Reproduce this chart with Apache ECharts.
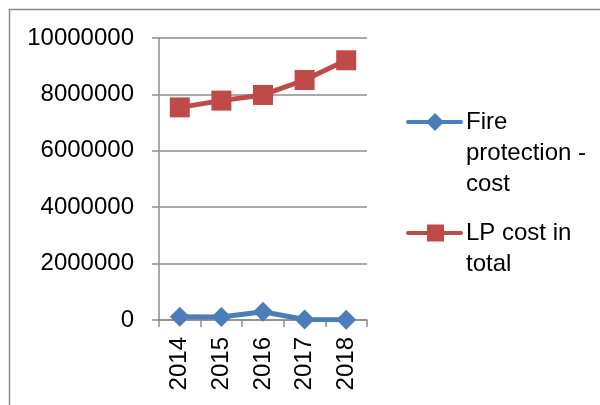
<!DOCTYPE html>
<html><head><meta charset="utf-8">
<script src="https://cdn.jsdelivr.net/npm/echarts@6/dist/echarts.min.js"></script>
<style>html,body{margin:0;padding:0;background:#fff}#c{width:600px;height:405px}</style>
</head><body><div id="c"></div>
<script>
var categories = ['2014', '2015', '2016', '2017', '2018'];
var fireProtection = [115000, 110000, 295000, 20000, 10000];
var lpTotal = [7540000, 7780000, 7980000, 8510000, 9210000];
var seriesNames = ['Fire protection - cost', 'LP cost in total'];
var legendLines = [['Fire', 'protection -', 'cost'], ['LP cost in', 'total']];
var yTicks = [0, 2000000, 4000000, 6000000, 8000000, 10000000];

var FONT = '"Liberation Sans", Arial, sans-serif';
var BLUE = '#4a7ebb', RED = '#be4b48', GRID = '#8c8c8c';
var chart = echarts.init(document.getElementById('c'));

function legendGraphic(y, color, symbol, lines) {
  var els = [
    {type: 'line', shape: {x1: 408, y1: y, x2: 461, y2: y}, style: {stroke: color, lineWidth: 4, lineCap: 'round'}}
  ];
  if (symbol === 'diamond') {
    els.push({type: 'polygon', shape: {points: [[435, y - 9], [444, y], [435, y + 9], [426, y]]}, style: {fill: color}});
  } else {
    els.push({type: 'rect', shape: {x: 427, y: y - 8.5, width: 17, height: 17}, style: {fill: color}});
  }
  lines.forEach(function (t, i) {
    els.push({type: 'text', x: 466, y: y + i * 31, style: {text: t, font: '24px ' + FONT, fill: '#000', verticalAlign: 'middle', align: 'left'}});
  });
  return els;
}

chart.setOption({
  animation: false,
  grid: {left: 159, right: 233, top: 38, bottom: 85},
  xAxis: {
    type: 'category', data: categories, boundaryGap: true,
    axisLine: {lineStyle: {color: GRID, width: 1.5}},
    axisTick: {show: true, length: 7, lineStyle: {color: GRID, width: 1.5}},
    axisLabel: {rotate: 90, margin: 17, fontSize: 24, color: '#000', fontFamily: FONT}
  },
  yAxis: {
    type: 'value', min: yTicks[0], max: yTicks[yTicks.length - 1], interval: 2000000,
    axisLine: {show: true, lineStyle: {color: GRID, width: 1.5}},
    axisTick: {show: true, length: 7, lineStyle: {color: GRID, width: 1.5}},
    splitLine: {lineStyle: {color: GRID, width: 1.5}},
    axisLabel: {margin: 25, fontSize: 24, color: '#000', fontFamily: FONT,
      formatter: function (v) { return String(v); }}
  },
  legend: {show: false},
  series: [
    {name: seriesNames[0], type: 'line', data: fireProtection, symbol: 'diamond', symbolSize: 20,
     itemStyle: {color: BLUE}, lineStyle: {color: BLUE, width: 5}},
    {name: seriesNames[1], type: 'line', data: lpTotal, symbol: 'rect', symbolSize: 20,
     itemStyle: {color: RED}, lineStyle: {color: RED, width: 5}}
  ],
  graphic: [
    {type: 'rect', shape: {x: 9.5, y: 9.5, width: 620, height: 420}, style: {fill: 'none', stroke: '#8a8a8a', lineWidth: 1.5}}
  ].concat(legendGraphic(122, BLUE, 'diamond', legendLines[0]))
   .concat(legendGraphic(233, RED, 'rect', legendLines[1]))
});
</script></body></html>
